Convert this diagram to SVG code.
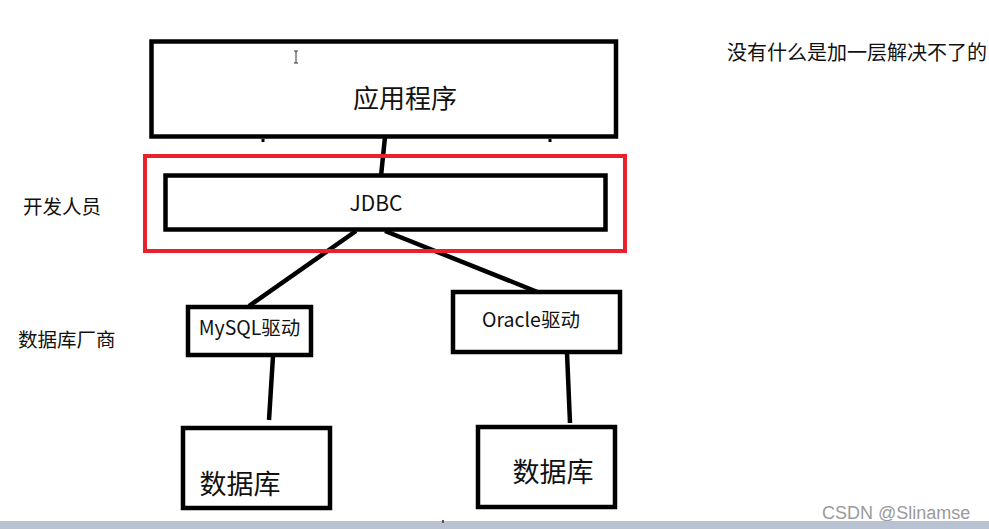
<svg xmlns="http://www.w3.org/2000/svg" width="989" height="529" viewBox="0 0 989 529">
<style>
.box{fill:#fff;stroke:#000;stroke-width:4.5}
.t{font-family:"Noto Sans CJK SC","Microsoft YaHei",sans-serif;fill:#111}
.c{fill:none;stroke:#000;stroke-width:4.5;stroke-linecap:butt}
</style>
<rect x="0" y="0" width="989" height="529" fill="#fff"/>
<g id="connectors">
<path class="c" d="M385,137 L381,176"/>
<path class="c" d="M356,231 L249,306"/>
<path class="c" d="M385,231 L540,293"/>
<path class="c" d="M273,356 L269,420"/>
<path class="c" d="M567,353 L570,423"/>
</g>
<g id="app">
<rect class="box" x="151.5" y="41.5" width="464.5" height="95"/>
<text class="t" x="405" y="108" font-size="26" text-anchor="middle">应用程序</text>
</g>
<g id="cursor" stroke="#333" stroke-width="1" fill="none">
<path d="M294,51 H298 M296,51 V63 M294,63 H298"/>
</g>
<g id="ticks" stroke="#000" stroke-width="3">
<path d="M263,139 V142 M550,139 V142"/>
</g>
<g id="highlight">
<rect x="145" y="156" width="480" height="95" fill="none" stroke="#e8212b" stroke-width="4"/>
</g>
<g id="jdbc">
<rect class="box" x="165.5" y="175.5" width="440" height="54"/>
<text class="t" x="376" y="211" font-size="21" text-anchor="middle">JDBC</text>
</g>
<g id="mysql">
<rect class="box" x="188" y="307" width="123" height="48"/>
<text class="t" x="249.5" y="335" font-size="19.5" text-anchor="middle">MySQL驱动</text>
</g>
<g id="oracle">
<rect class="box" x="453" y="292" width="167" height="60"/>
<text class="t" x="531" y="327" font-size="19.5" text-anchor="middle">Oracle驱动</text>
</g>
<g id="db1">
<rect class="box" x="183" y="428" width="147" height="80"/>
<text class="t" x="240" y="494" font-size="27" text-anchor="middle">数据库</text>
</g>
<g id="db2">
<rect class="box" x="478" y="427" width="137" height="80"/>
<text class="t" x="553" y="482" font-size="27" text-anchor="middle">数据库</text>
</g>
<g id="labels">
<text class="t" x="727" y="60" font-size="20">没有什么是加一层解决不了的</text>
<text class="t" x="23" y="214" font-size="19.5">开发人员</text>
<text class="t" x="18" y="347" font-size="19.5">数据库厂商</text>
<text x="822" y="519" font-size="18" font-family="Liberation Sans, Arial, sans-serif" fill="#9a9a9a">CSDN @Slinamse</text>
</g>
<rect x="0" y="521" width="989" height="8" fill="#b8c2d2"/>
<rect x="442" y="520" width="2" height="3" fill="#555"/>
</svg>
